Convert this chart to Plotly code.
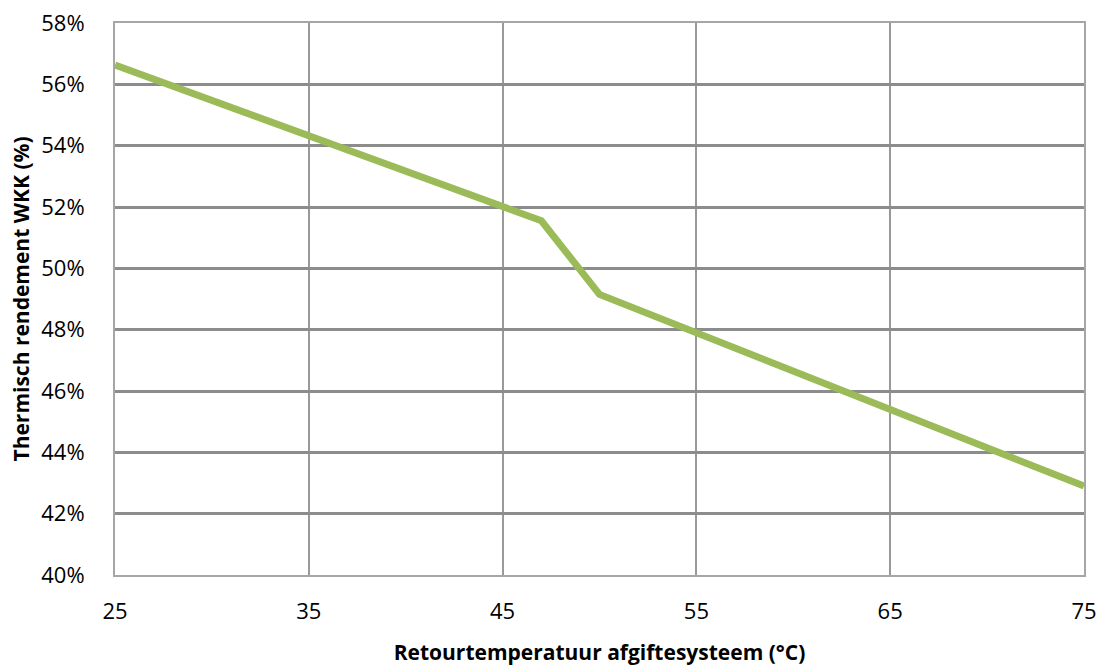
import plotly.graph_objects as go

# Return temperature of the heat distribution system (°C)
retour_temp = [25, 47, 50, 75]
# Thermal efficiency of the CHP unit (%)
thermisch_rendement = [56.63, 51.55, 49.15, 42.9]

x_ticks = [25, 35, 45, 55, 65, 75]
y_ticks = [40, 42, 44, 46, 48, 50, 52, 54, 56, 58]
y_labels = [f"{v}%" for v in y_ticks]

font_family = "Open Sans"

fig = go.Figure()
fig.add_trace(go.Scatter(
    x=retour_temp,
    y=thermisch_rendement,
    mode="lines",
    line=dict(color="#9BBB59", width=7),
    showlegend=False,
    hoverinfo="x+y",
))

fig.update_layout(
    width=1105,
    height=666,
    margin=dict(l=115, r=21, t=23, b=91),
    paper_bgcolor="white",
    plot_bgcolor="white",
    font=dict(family=font_family, size=22, color="black"),
    xaxis=dict(
        range=[25, 75],
        tickvals=x_ticks,
        ticktext=[str(v) for v in x_ticks],
        showgrid=True,
        gridcolor="#999999",
        gridwidth=2,
        zeroline=False,
        showline=True,
        linecolor="#A6A6A6",
        linewidth=2,
        mirror=True,
        ticks="",
        ticklabelstandoff=16,
        automargin=False,
        title=dict(
            text="<b>Retourtemperatuur afgiftesysteem (°C)</b>",
            font=dict(family=font_family, size=21),
            standoff=22,
        ),
    ),
    yaxis=dict(
        range=[40, 58],
        tickvals=y_ticks,
        ticktext=y_labels,
        showgrid=True,
        gridcolor="#8C8C8C",
        gridwidth=3,
        zeroline=False,
        showline=True,
        linecolor="#A6A6A6",
        linewidth=2,
        mirror=True,
        ticks="",
        ticklabelstandoff=24,
        automargin=False,
        title=dict(
            text="<b>Thermisch rendement WKK (%)</b>",
            font=dict(family=font_family, size=21),
            standoff=6,
        ),
    ),
)

fig.write_html("out.html")
